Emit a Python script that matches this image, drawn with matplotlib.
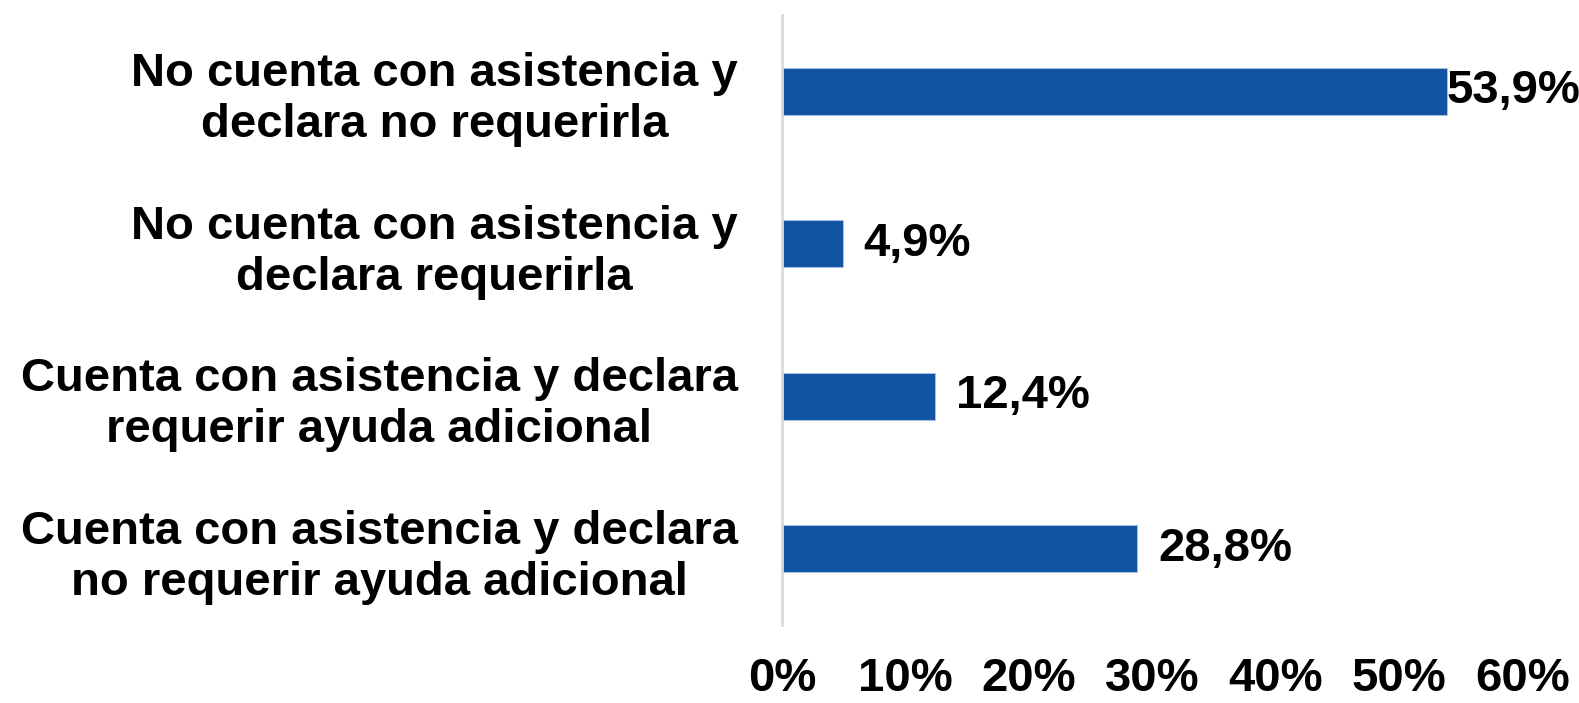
import matplotlib
matplotlib.use("Agg")
import matplotlib.pyplot as plt
from matplotlib.ticker import FuncFormatter

categories = [
    "No cuenta con asistencia y\ndeclara no requerirla",
    "No cuenta con asistencia y\ndeclara requerirla",
    "Cuenta con asistencia y declara\nrequerir ayuda adicional",
    "Cuenta con asistencia y declara\nno requerir ayuda adicional",
]
values = [53.9, 4.9, 12.4, 28.8]
value_labels = ["53,9%", "4,9%", "12,4%", "28,8%"]
x_ticks = [0, 10, 20, 30, 40, 50, 60]

plt.rcParams['font.family'] = ['Liberation Sans', 'DejaVu Sans']

fig = plt.figure(figsize=(15.79, 7.03), dpi=100)
ax = fig.add_axes([0.4953, 0.111, 0.4687, 0.8677])

ypos = list(range(len(categories)))
ax.barh(ypos, values, height=0.31, color="#1454A4", edgecolor="#a9c4e8", linewidth=0.6)
ax.set_ylim(len(categories) - 0.5, -0.5)
ax.set_xlim(0, 60)

ax.set_yticks(ypos)
ax.set_yticklabels(categories, fontsize=34, fontweight='bold', ha='right')
for t in ax.get_yticklabels():
    t.set_multialignment('center')
    t.set_linespacing(1.2)
ax.tick_params(axis='y', length=0, pad=32)

ax.set_xticks(x_ticks)
ax.xaxis.set_major_formatter(FuncFormatter(lambda v, p: f"{int(v)}%"))
ax.tick_params(axis='x', length=0, pad=23, labelsize=34)
for t in ax.get_xticklabels():
    t.set_fontweight('bold')

for s in ['top', 'right', 'bottom']:
    ax.spines[s].set_visible(False)
ax.spines['left'].set_color('#d9d9d9')
ax.spines['left'].set_linewidth(2)

for y, v, lab in zip(ypos, values, value_labels):
    off = 0 if v > 50 else 15
    ax.annotate(lab, xy=(v, y), xytext=(off, 0), textcoords='offset points',
                ha='left', va='center', fontsize=34, fontweight='bold',
                annotation_clip=False)

fig.savefig("out.png", dpi=100, facecolor='white')
